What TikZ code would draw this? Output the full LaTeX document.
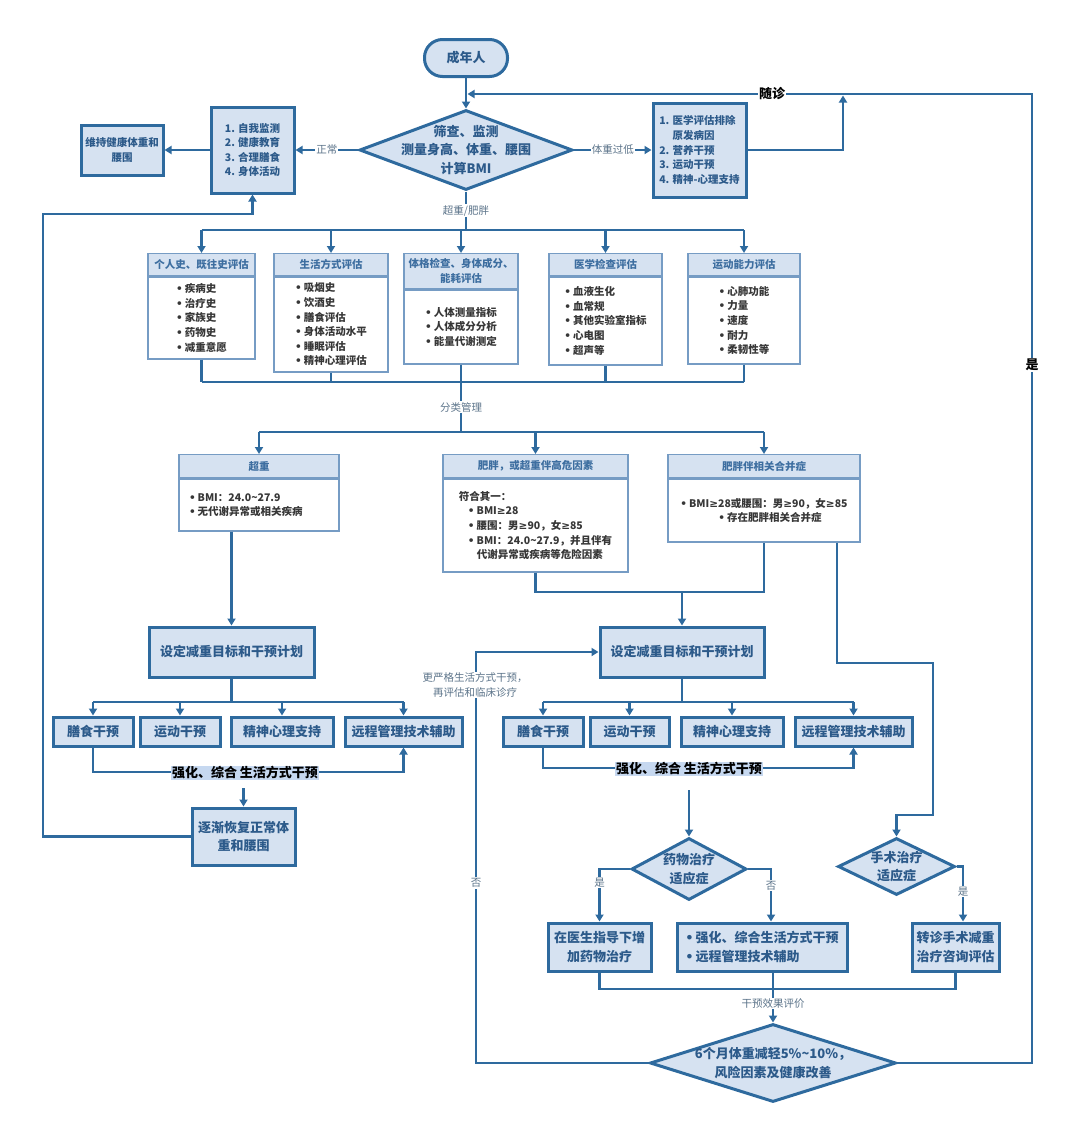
\documentclass[tikz,border=0pt]{standalone}
\usepackage{fontspec}
\setmainfont{Noto Sans CJK SC}
\newfontfamily\dv{DejaVu Sans}
\usetikzlibrary{shapes.geometric,arrows.meta}

\definecolor{bblue}{RGB}{46,106,158}
\definecolor{fblue}{RGB}{214,226,241}
\definecolor{tblue}{RGB}{44,90,138}
\definecolor{hblue}{RGB}{61,110,160}
\definecolor{eblue}{RGB}{118,156,196}
\definecolor{lgray}{RGB}{92,116,138}
\definecolor{hlblue}{RGB}{198,216,240}
\definecolor{dgray}{RGB}{55,55,55}

\newcommand\fs{\fontsize{10.5pt}{14.6pt}\selectfont}
\newcommand\fm{\fontsize{13pt}{18.3pt}\selectfont}
\newcommand\bul{{\dv •}\hspace{2pt}}
\newcommand\gte{{\dv ≥}}

\tikzset{
  line/.style={draw=bblue,line width=2.4pt},
  box/.style={draw=bblue,line width=3pt,fill=fblue,text=tblue,font=\fm\bfseries,align=center,inner sep=2pt},
  dia/.style={diamond,draw=bblue,line width=3pt,fill=fblue,inner sep=0pt},
  dtxt/.style={text=tblue,font=\fm\bfseries,align=center},
  hd/.style={draw=eblue,line width=1.3pt,fill=fblue,text=hblue,font=\fs\bfseries,align=center,inner sep=1pt,anchor=north},
  bd/.style={draw=eblue,line width=1.3pt,fill=white,text=dgray,font=\fs\bfseries,align=left,inner sep=1pt,anchor=north},
  lab/.style={fill=white,text=lgray,font=\fs,inner sep=1pt},
  blab/.style={fill=white,text=black,font=\fm\bfseries,inner sep=1pt},
  hl/.style={fill=hlblue,text=black,font=\fm\bfseries,inner sep=1pt},
  >={Triangle[length=7pt,width=8pt]}
}

\begin{document}
\begin{tikzpicture}[x=1pt,y=-1pt]
  \useasboundingbox (0,0) rectangle (1080,1141);

  % screening
  \node[box,rounded corners=18pt,minimum width=83pt,minimum height=37pt] (adult) at (466,58) {成年人};
  \node[dia,minimum width=213pt,minimum height=80pt] (scr) at (466,150) {};
  \node[dtxt] at (scr) {筛查、监测\\测量身高、体重、腰围\\计算BMI};

  \node[box,font=\fs\bfseries,align=left,minimum width=83pt,minimum height=86pt] (norm) at (252.5,150)
       {1. 自我监测\\2. 健康教育\\3. 合理膳食\\4. 身体活动};
  \node[box,font=\fs\bfseries,minimum width=82pt,minimum height=50pt] (keep) at (122,150) {维持健康体重和\\腰围};
  \node[box,font=\fs\bfseries,align=left,minimum width=93pt,minimum height=94pt,inner sep=1pt] (low) at (699.5,150)
       {1. 医学评估排除\\\phantom{1. }原发病因\\2. 营养干预\\3. 运动干预\\4. 精神-心理支持};

  \draw[line,->] (adult.south) -- (scr.north);
  \draw[line,->] (scr.west) -- (norm.east) node[midway,lab] {正常};
  \draw[line,->] (norm.west) -- (keep.east);
  \draw[line,->] (scr.east) -- (low.west) node[midway,lab] {体重过低};
  \coordinate (fu) at (843,95.5);
  \draw[line,->] (low.east) -| (fu);

  % assessment
  \node[hd,minimum width=107pt,minimum height=22pt] (ah1) at (201.5,253) {个人史、既往史评估};
  \node[bd,minimum width=107pt,minimum height=82pt] (ab1) at (ah1.south)
       {\bul 疾病史\\\bul 治疗史\\\bul 家族史\\\bul 药物史\\\bul 减重意愿};
  \node[hd,minimum width=114pt,minimum height=22pt] (ah2) at (331,253) {生活方式评估};
  \node[bd,minimum width=114pt,minimum height=95pt] (ab2) at (ah2.south)
       {\bul 吸烟史\\\bul 饮酒史\\\bul 膳食评估\\\bul 身体活动水平\\\bul 睡眠评估\\\bul 精神心理评估};
  \node[hd,minimum width=114pt,minimum height=35pt] (ah3) at (461,253) {体格检查、身体成分、\\能耗评估};
  \node[bd,minimum width=114pt,minimum height=74pt] (ab3) at (ah3.south)
       {\bul 人体测量指标\\\bul 人体成分分析\\\bul 能量代谢测定};
  \node[hd,minimum width=113pt,minimum height=22pt] (ah4) at (605.5,253) {医学检查评估};
  \node[bd,minimum width=113pt,minimum height=88pt] (ab4) at (ah4.south)
       {\bul 血液生化\\\bul 血常规\\\bul 其他实验室指标\\\bul 心电图\\\bul 超声等};
  \node[hd,minimum width=112pt,minimum height=22pt] (ah5) at (744,253) {运动能力评估};
  \node[bd,minimum width=112pt,minimum height=87pt] (ab5) at (ah5.south)
       {\bul 心肺功能\\\bul 力量\\\bul 速度\\\bul 耐力\\\bul 柔韧性等};

  \coordinate (b1) at (466,230);
  \draw[line] (scr.south) -- (b1) node[midway,lab] {超重/肥胖};
  \draw[line] (ah1.north |- b1) -- (ah5.north |- b1);
  \foreach \k in {1,...,5} \draw[line,->] (ah\k.north |- b1) -- (ah\k.north);

  \coordinate (b2) at (461,382);
  \foreach \k in {1,...,5} \draw[line] (ab\k.south) -- (ab\k.south |- b2);
  \draw[line] (ab1.south |- b2) -- (ab5.south |- b2);

  % classes
  \node[hd,minimum width=160pt,minimum height=23pt] (ch1) at (259,454) {超重};
  \node[bd,minimum width=160pt,minimum height=52pt,text width=140pt] (cb1) at (ch1.south)
       {\bul BMI：24.0\textasciitilde27.9\\\bul 无代谢异常或相关疾病};
  \node[hd,minimum width=185pt,minimum height=23pt] (ch2) at (535.5,454) {肥胖，或超重伴高危因素};
  \node[bd,minimum width=185pt,minimum height=93pt] (cb2) at (ch2.south)
       {符合其一：\\
        \hspace*{9pt}\bul BMI\gte28\\
        \hspace*{9pt}\bul 腰围：男\gte90，女\gte85\\
        \hspace*{9pt}\bul BMI：24.0\textasciitilde27.9，并且伴有\\
        \hspace*{18pt}代谢异常或疾病等危险因素};
  \node[hd,minimum width=192pt,minimum height=23pt] (ch3) at (764,454) {肥胖伴相关合并症};
  \node[bd,minimum width=192pt,minimum height=63pt,text width=180pt,align=center] (cb3) at (ch3.south)
       {\bul BMI\gte28或腰围：男\gte90，女\gte85\\\hspace*{12pt}\bul 存在肥胖相关合并症\\[4pt]};

  \coordinate (b3) at (461,432);
  \draw[line] (ab3.south |- b2) -- (b3) node[midway,lab] {分类管理};
  \draw[line] (ch1.north |- b3) -- (ch3.north |- b3);
  \foreach \k in {1,2,3} \draw[line,->] (ch\k.north |- b3) -- (ch\k.north);

  % overweight branch
  \node[box,minimum width=165pt,minimum height=50pt] (setl) at (231.5,652) {设定减重目标和干预计划};
  \draw[line,->] (setl.north |- cb1.south) -- (setl.north);
  \node[box,minimum width=80pt,minimum height=29pt] (il1) at (93,731.5) {膳食干预};
  \node[box,minimum width=80pt,minimum height=29pt] (il2) at (180,731.5) {运动干预};
  \node[box,minimum width=102pt,minimum height=29pt] (il3) at (282,731.5) {精神心理支持};
  \node[box,minimum width=117pt,minimum height=29pt] (il4) at (403.5,731.5) {远程管理技术辅助};
  \coordinate (b4) at (231.5,702);
  \draw[line] (setl.south) -- (b4);
  \draw[line] (il1.north |- b4) -- (il4.north |- b4);
  \foreach \k in {1,...,4} \draw[line,->] (il\k.north |- b4) -- (il\k.north);
  \coordinate (b5) at (0,772);
  \draw[line,->] (il1.south) |- (il4.south |- b5) -- (il4.south);
  \node[hl] (hl1) at (245,773) {强化、综合 生活方式干预};

  \node[box,minimum width=103pt,minimum height=57pt] (rec) at (243.5,836.5) {逐渐恢复正常体\\重和腰围};
  \coordinate (r0) at (243.5,788);
  \draw[line,->] (r0) -- (rec.north);
  \coordinate (lp) at (43,214);
  \draw[line,->] (rec.west) -| (lp) -| (norm.south);

  % obesity branch
  \node[box,minimum width=164pt,minimum height=50pt] (setr) at (682,652) {设定减重目标和干预计划};
  \coordinate (b6) at (0,592);
  \draw[line] (cb2.south) |- (cb3.south |- b6) -- (cb3.south);
  \draw[line,->] (setr.north |- b6) -- (setr.north);
  \node[box,minimum width=80pt,minimum height=29pt] (jr1) at (543,731.5) {膳食干预};
  \node[box,minimum width=79pt,minimum height=29pt] (jr2) at (629.5,731.5) {运动干预};
  \node[box,minimum width=102pt,minimum height=29pt] (jr3) at (732,731.5) {精神心理支持};
  \node[box,minimum width=117pt,minimum height=29pt] (jr4) at (853.5,731.5) {远程管理技术辅助};
  \coordinate (b7) at (682,702);
  \draw[line] (setr.south) -- (b7);
  \draw[line] (jr1.north |- b7) -- (jr4.north |- b7);
  \foreach \k in {1,...,4} \draw[line,->] (jr\k.north |- b7) -- (jr\k.north);
  \coordinate (b8) at (0,768);
  \draw[line,->] (jr1.south) |- (jr4.south |- b8) -- (jr4.south);
  \node[hl] (hl2) at (689,769) {强化、综合 生活方式干预};

  \node[dia,minimum width=115pt,minimum height=62pt] (dm) at (689,869) {};
  \node[dtxt] at (dm) {药物治疗\\适应症};
  \node[dia,minimum width=117pt,minimum height=57pt] (ds) at (896.5,866.5) {};
  \node[dtxt] at (ds) {手术治疗\\适应症};
  \coordinate (r1) at (689,790);
  \draw[line,->] (r1) -- (dm.north);

  \coordinate (c1) at (837,663);
  \coordinate (c2) at (933,815);
  \draw[line,->] (cb3.south -| c1) -- (c1) -| (c2) -| (ds.north);

  \node[box,minimum width=103pt,minimum height=48pt] (p1) at (599.5,947) {在医生指导下增\\加药物治疗};
  \node[box,align=left,minimum width=170pt,minimum height=48pt] (p2) at (762,947) {\bul 强化、综合生活方式干预\\\bul 远程管理技术辅助};
  \node[box,minimum width=87pt,minimum height=48pt,inner sep=1pt] (p3) at (955.5,947) {转诊手术减重\\治疗咨询评估};
  \draw[line,->] (dm.west) -| (p1.north) node[pos=0.63,lab] {是};
  \draw[line,->] (dm.east) -| ([xshift=9pt]p2.north) node[pos=0.66,lab] {否};
  \draw[line,->] (ds.east) -| ([xshift=7.5pt]p3.north) node[pos=0.73,lab] {是};

  % evaluation
  \node[dia,minimum width=246pt,minimum height=78pt] (res) at (773,1063) {};
  \node[dtxt] at (res) {6个月体重减轻5\%\textasciitilde10\%，\\风险因素及健康改善};
  \coordinate (b9) at (0,989);
  \draw[line] (p1.south) |- (p3.south |- b9) -- (p3.south);
  \draw[line,->] ([xshift=11pt]p2.south) -- (res.north) node[pos=0.62,lab] {干预效果评价};

  \coordinate (lq) at (476,652);
  \draw[line,->] (res.west) -| (lq) -- (setr.west);
  \node[lab] at (476,883) {否};
  \node[lab,align=center] at (475,685) {更严格生活方式干预，\\再评估和临床诊疗};

  \coordinate (rt) at (1032,94);
  \coordinate (fin) at (467.5,94);
  \draw[line,->] (res.east) -| (rt) -- (fin);
  \node[blab] at (772,94) {随诊};
  \node[blab] at (1032,365) {是};
\end{tikzpicture}
\end{document}
